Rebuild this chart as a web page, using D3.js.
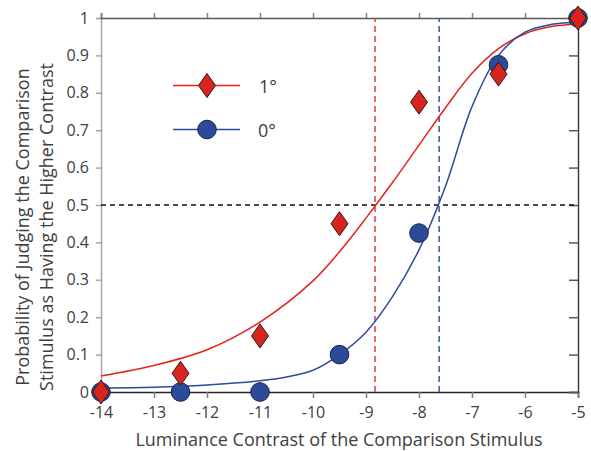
<!DOCTYPE html>
<html>
<head>
<meta charset="utf-8">
<script src="https://cdn.jsdelivr.net/npm/d3@7"></script>
<style>
  body { margin: 0; background: #fff; }
  text { font-family: "Open Sans", sans-serif; fill: #404040; }
</style>
</head>
<body>
<div id="chart"></div>
<script>
// stimulus contrasts tested
var contrasts = [-14, -12.5, -11, -9.5, -8, -6.5, -5];
// observed proportions
var oneDeg = [0, 0.05, 0.15, 0.45, 0.775, 0.85, 1.0];
var zeroDeg = [0, 0, 0, 0.1, 0.425, 0.875, 1.0];

// fitted curves
var fitOneX = [-14, -13, -12, -11, -10, -9.5, -9, -8.5, -8, -7.5, -7, -6.5, -6, -5.5, -5];
var fitOneY = [0.043, 0.071, 0.113, 0.187, 0.297, 0.375, 0.465, 0.56, 0.66, 0.76, 0.852, 0.918, 0.958, 0.977, 0.984];
var fitZeroX = [-14, -13, -12, -11, -10.5, -10, -9.5, -9, -8.5, -8, -7.5, -7, -6.5, -6, -5.5, -5];
var fitZeroY = [0.011, 0.013, 0.019, 0.03, 0.04, 0.058, 0.1, 0.16, 0.255, 0.38, 0.55, 0.763, 0.9, 0.962, 0.983, 0.988];

// thresholds (50% points)
var thresholds = [{ x: -8.83, color: "#e03a3a" }, { x: -7.62, color: "#3553a8" }];

var xTicks = [-14, -13, -12, -11, -10, -9, -8, -7, -6, -5];
var yTicks = [0, 0.1, 0.2, 0.3, 0.4, 0.5, 0.6, 0.7, 0.8, 0.9, 1];
var yLabels = ["0", "0.1", "0.2", "0.3", "0.4", "0.5", "0.6", "0.7", "0.8", "0.9", "1"];

(function chart() {
  var red = "#e3231b", blue = "#2e4a9c";
  var redFill = "#d8241c", blueFill = "#2b4a99";

  var width = 591, height = 451;
  var mLeft = 101, mRight = 578, mTop = 18, mBottom = 392;

  var x = d3.scaleLinear().domain([-14, -5]).range([mLeft, mRight]);
  var y = d3.scaleLinear().domain([0, 1]).range([mBottom, mTop]);

  var svg = d3.select("#chart").append("svg")
      .attr("width", width)
      .attr("height", height);

  // axes
  var gLeft = svg.append("g")
      .attr("transform", "translate(" + mLeft + ",0)")
      .call(d3.axisLeft(y).tickValues(yTicks).tickSize(5).tickPadding(7)
        .tickFormat(function(d, i) { return yLabels[i]; }));
  gLeft.select(".domain").attr("stroke", "#a6a6a6").attr("stroke-width", 1.5);
  gLeft.selectAll(".tick line").attr("stroke", "#a6a6a6").attr("stroke-width", 1.5);
  gLeft.selectAll(".tick text").style("font-size", "16px").attr("fill", "#404040");

  var gBottom = svg.append("g")
      .attr("transform", "translate(0," + mBottom + ")")
      .call(d3.axisBottom(x).tickValues(xTicks).tickSize(6).tickPadding(9)
        .tickFormat(function(d) { return String(d); }));
  gBottom.select(".domain").attr("stroke", "#262626").attr("stroke-width", 1.5);
  gBottom.selectAll(".tick line").attr("stroke", "#808080").attr("stroke-width", 1.5);
  gBottom.selectAll(".tick text").style("font-size", "16px").attr("fill", "#404040");

  var gTop = svg.append("g")
      .attr("transform", "translate(0," + mTop + ")")
      .call(d3.axisTop(x).tickValues(xTicks).tickSize(5).tickFormat(""));
  gTop.select(".domain").attr("stroke", "#595959").attr("stroke-width", 1.5);
  gTop.selectAll(".tick line").attr("stroke", "#808080").attr("stroke-width", 1.5);

  var gRight = svg.append("g")
      .attr("transform", "translate(" + mRight + ",0)")
      .call(d3.axisRight(y).tickValues(yTicks).tickSize(-9).tickFormat(""));
  gRight.select(".domain").attr("stroke", "#404040").attr("stroke-width", 1.5);
  gRight.selectAll(".tick line").attr("stroke", "#595959").attr("stroke-width", 1.5);

  // threshold guides
  svg.append("line")
      .attr("x1", mLeft).attr("x2", mRight)
      .attr("y1", y(0.5)).attr("y2", y(0.5))
      .attr("stroke", "#111").attr("stroke-width", 1.3)
      .attr("stroke-dasharray", "5,4");

  svg.selectAll(".thr")
      .data(thresholds)
    .enter().append("line")
      .attr("class", "thr")
      .attr("x1", function(d) { return x(d.x); })
      .attr("x2", function(d) { return x(d.x); })
      .attr("y1", y(0)).attr("y2", y(1))
      .attr("stroke", function(d) { return d.color; })
      .attr("stroke-width", 1.5)
      .attr("stroke-dasharray", "6,4");

  // fitted curves
  var line = d3.line()
      .x(function(d) { return x(d[0]); })
      .y(function(d) { return y(d[1]); })
      .curve(d3.curveCatmullRom.alpha(0.5));

  svg.append("path")
      .datum(d3.zip(fitOneX, fitOneY))
      .attr("d", line)
      .attr("fill", "none").attr("stroke", red).attr("stroke-width", 1.5);

  svg.append("path")
      .datum(d3.zip(fitZeroX, fitZeroY))
      .attr("d", line)
      .attr("fill", "none").attr("stroke", blue).attr("stroke-width", 1.5);

  // markers
  var diamond = "M0,-12L8.5,0L0,12L-8.5,0Z";

  svg.selectAll(".zero")
      .data(d3.zip(contrasts, zeroDeg))
    .enter().append("circle")
      .attr("class", "zero")
      .attr("cx", function(d) { return x(d[0]); })
      .attr("cy", function(d) { return y(d[1]); })
      .attr("r", 9.3)
      .attr("fill", blueFill).attr("stroke", "#1a2340").attr("stroke-width", 1);

  svg.selectAll(".one")
      .data(d3.zip(contrasts, oneDeg))
    .enter().append("path")
      .attr("class", "one")
      .attr("d", diamond)
      .attr("transform", function(d) { return "translate(" + x(d[0]) + "," + y(d[1]) + ")"; })
      .attr("fill", redFill).attr("stroke", "#2a1a1a").attr("stroke-width", 1);

  // legend
  var legend = svg.append("g");
  legend.append("line").attr("x1", 173).attr("x2", 240).attr("y1", 85.5).attr("y2", 85.5)
      .attr("stroke", red).attr("stroke-width", 1.5);
  legend.append("path").attr("d", diamond).attr("transform", "translate(207,85.5)")
      .attr("fill", redFill).attr("stroke", "#2a1a1a").attr("stroke-width", 1);
  legend.append("text").attr("x", 259).attr("y", 93).style("font-size", "18px").text("1°");

  legend.append("line").attr("x1", 173).attr("x2", 240).attr("y1", 129.5).attr("y2", 129.5)
      .attr("stroke", blue).attr("stroke-width", 1.5);
  legend.append("circle").attr("cx", 207).attr("cy", 129.5).attr("r", 9.3)
      .attr("fill", blueFill).attr("stroke", "#1a2340").attr("stroke-width", 1);
  legend.append("text").attr("x", 258).attr("y", 136.5).style("font-size", "18px").text("0°");

  // axis titles
  svg.append("text")
      .attr("x", 339).attr("y", 446)
      .attr("text-anchor", "middle")
      .style("font-size", "18px")
      .text("Luminance Contrast of the Comparison Stimulus");

  var yTitle = svg.append("text")
      .attr("transform", "translate(29,227) rotate(-90)")
      .attr("text-anchor", "middle")
      .style("font-size", "18px");
  yTitle.append("tspan").attr("x", 0).attr("dy", 0).text("Probability of Judging the Comparison");
  yTitle.append("tspan").attr("x", 0).attr("dy", 23.5).text("Stimulus as Having the Higher Contrast");
})();
</script>
</body>
</html>
